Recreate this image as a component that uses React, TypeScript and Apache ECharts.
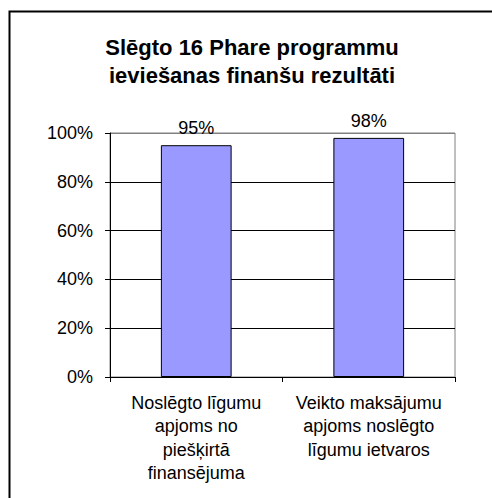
import React, { useEffect, useRef } from "react";
import * as echarts from "echarts";

const titleLines = ["Slēgto 16 Phare programmu", "ieviešanas finanšu rezultāti"];
const categories = [
  "Noslēgto līgumu\napjoms no\npiešķirtā\nfinansējuma",
  "Veikto maksājumu\napjoms noslēgto\nlīgumu ietvaros",
];
const values = [0.95, 0.98];
const dataLabels = ["95%", "98%"];

const FONT = "'Liberation Sans', Arial, sans-serif";

export default function App() {
  const ref = useRef<HTMLDivElement>(null);
  useEffect(() => {
    if (!ref.current) return;
    const chart = echarts.init(ref.current, undefined, { renderer: "svg" });
    chart.setOption({
      animation: false,
      backgroundColor: "#ffffff",
      textStyle: { fontFamily: FONT },
      title: {
        text: titleLines.join("\n"),
        left: 247,
        textAlign: "center",
        top: 28,
        textStyle: {
          fontFamily: FONT,
          fontSize: 22,
          fontWeight: "bold",
          color: "#000",
          lineHeight: 28,
        },
      },
      graphic: [
        {
          type: "rect",
          shape: { x: 9.5, y: 11.5, width: 520, height: 520 },
          style: { fill: "none", stroke: "#000", lineWidth: 2 },
          silent: true,
        },
      ],
      grid: {
        left: 110,
        right: 37,
        top: 133,
        bottom: 121,
        show: true,
        borderColor: "#808080",
        borderWidth: 1,
      },
      xAxis: {
        type: "category",
        data: categories,
        axisLine: { lineStyle: { color: "#000", width: 1 } },
        axisTick: { show: true, length: 5, lineStyle: { color: "#000" } },
        axisLabel: {
          color: "#000",
          fontFamily: FONT,
          fontSize: 18,
          lineHeight: 23.5,
          margin: 14,
          interval: 0,
        },
      },
      yAxis: {
        type: "value",
        min: 0,
        max: 1,
        interval: 0.2,
        axisLine: { show: true, lineStyle: { color: "#000", width: 1 } },
        axisTick: { show: true, length: 5, lineStyle: { color: "#000" } },
        axisLabel: {
          color: "#000",
          fontFamily: FONT,
          fontSize: 18,
          margin: 17,
          formatter: (v: number) => Math.round(v * 100) + "%",
        },
        splitLine: {
          show: true,
          lineStyle: {
            color: ["#000", "#000", "#000", "#000", "#000", "#808080"],
            width: 1,
          },
        },
      },
      series: [
        {
          type: "bar",
          data: values,
          barWidth: "41%",
          itemStyle: { color: "#9999FF", borderColor: "#000", borderWidth: 1 },
          label: {
            show: true,
            position: "top",
            distance: 8,
            color: "#000",
            fontFamily: FONT,
            fontSize: 18,
            formatter: (p: any) => dataLabels[p.dataIndex],
          },
        },
      ],
    });
    return () => chart.dispose();
  }, []);
  return (
    <div
      ref={ref}
      style={{ position: "absolute", left: 0, top: 0, width: 492, height: 498 }}
    />
  );
}
